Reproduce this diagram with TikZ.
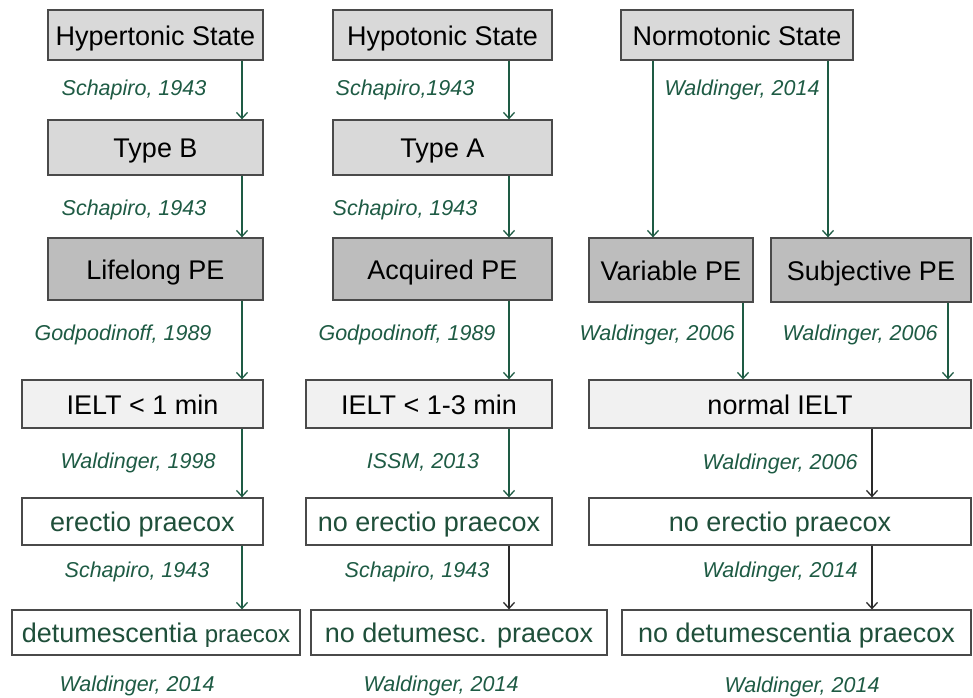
\documentclass[tikz,border=0pt]{standalone}
\usepackage{fontspec}
\setmainfont{Liberation Sans}
\usetikzlibrary{arrows.meta}
\definecolor{lbl}{HTML}{1E5B44}
\definecolor{txtg}{HTML}{1F4F3A}
\definecolor{edge}{HTML}{4A4A4A}
\definecolor{fillA}{HTML}{D9D9D9}
\definecolor{fillB}{HTML}{BDBDBD}
\definecolor{fillC}{HTML}{F1F1F1}
\definecolor{blk}{HTML}{2A2A2A}
\tikzset{
  x=1pt,y=-1pt,
  box/.style={draw=edge,line width=1.3pt,inner sep=0pt,anchor=center,
    font=\fontsize{27}{30}\selectfont,text=black,text height=20.5pt,text depth=0.5pt},
  boxA/.style={box,fill=fillA},
  boxB/.style={box,fill=fillB},
  boxC/.style={box,fill=fillC},
  boxW/.style={box,fill=white,text=txtg},
  lab/.style={font=\fontsize{21.5}{24}\selectfont\itshape,text=lbl,inner sep=0pt,text height=16pt,text depth=0.5pt},
  garr/.style={draw=lbl,line width=1.3pt,-{Straight Barb[length=6pt,width=11pt,line width=1.3pt]}},
  karr/.style={draw=blk,line width=1.3pt,-{Straight Barb[length=6pt,width=11pt,line width=1.3pt]}},
}
\begin{document}
\begin{tikzpicture}
\useasboundingbox[fill=white] (0,0) rectangle (973,697);
% row 1
\node[boxA,minimum width=215pt,minimum height=50pt] (hyper) at (155.5,35) {Hypertonic State};
\node[boxA,minimum width=219pt,minimum height=50pt] (hypo) at (442.5,35) {Hypotonic State};
\node[boxA,minimum width=232pt,minimum height=50pt] (normo) at (737,35) {Normotonic State};
% row 2
\node[boxA,minimum width=215pt,minimum height=55pt] (typeB) at (155.5,147.5) {Type B};
\node[boxA,minimum width=219pt,minimum height=55pt] (typeA) at (442.5,147.5) {Type A};
% row 3
\node[boxB,minimum width=215pt,minimum height=62pt] (life) at (155.5,269) {Lifelong PE};
\node[boxB,minimum width=219pt,minimum height=62pt] (acq) at (442.5,269) {Acquired PE};
\node[boxB,minimum width=164pt,minimum height=64pt] (var) at (671,270) {Variable PE};
\node[boxB,minimum width=200pt,minimum height=64pt] (subj) at (871,270) {Subjective PE};
% row 4
\node[boxC,minimum width=241pt,minimum height=48pt] (ielt1) at (142.5,404) {IELT < 1 min};
\node[boxC,minimum width=246pt,minimum height=48pt] (ielt13) at (429,404) {IELT < 1-3 min};
\node[boxC,minimum width=382pt,minimum height=48pt] (normal) at (780,404) {normal IELT};
% row 5
\node[boxW,minimum width=241pt,minimum height=47pt] (erec) at (142.5,521.5) {erectio praecox};
\node[boxW,minimum width=246pt,minimum height=47pt] (noerec2) at (429,521.5) {no erectio praecox};
\node[boxW,minimum width=382pt,minimum height=47pt] (noerec3) at (780,521.5) {no erectio praecox};
% row 6
\node[boxW,minimum width=288pt,minimum height=45pt] (detum) at (156,632.5) {detumescentia {\fontsize{24}{27}\selectfont praecox}};
\node[boxW,minimum width=296pt,minimum height=45pt] (nodet2) at (459,632.5) {no detumesc. praecox};
\node[boxW,minimum width=349pt,minimum height=45pt] (nodet3) at (796.5,632.5) {no detumescentia praecox};
% arrow columns
\coordinate (c1) at (242,0);
\coordinate (c2) at (509,0);
\coordinate (c3a) at (653,0);
\coordinate (c3b) at (828,0);
\coordinate (c3c) at (743,0);
\coordinate (c3d) at (948,0);
\coordinate (c3e) at (872,0);
% column 1
\draw[garr] (hyper.south -| c1) -- (typeB.north -| c1);
\draw[garr] (typeB.south -| c1) -- (life.north -| c1);
\draw[garr] (life.south -| c1) -- (ielt1.north -| c1);
\draw[garr] (ielt1.south -| c1) -- (erec.north -| c1);
\draw[garr] (erec.south -| c1) -- (detum.north -| c1);
% column 2
\draw[garr] (hypo.south -| c2) -- (typeA.north -| c2);
\draw[garr] (typeA.south -| c2) -- (acq.north -| c2);
\draw[garr] (acq.south -| c2) -- (ielt13.north -| c2);
\draw[garr] (ielt13.south -| c2) -- (noerec2.north -| c2);
\draw[karr] (noerec2.south -| c2) -- (nodet2.north -| c2);
% column 3
\draw[garr] (normo.south -| c3a) -- (var.north -| c3a);
\draw[garr] (normo.south -| c3b) -- (subj.north -| c3b);
\draw[garr] (var.south -| c3c) -- (normal.north -| c3c);
\draw[garr] (subj.south -| c3d) -- (normal.north -| c3d);
\draw[karr] (normal.south -| c3e) -- (noerec3.north -| c3e);
\draw[karr] (noerec3.south -| c3e) -- (nodet3.north -| c3e);
% labels
\node[lab] (l1) at (134,88) {Schapiro, 1943};
\node[lab] (l2) at (405,88) {Schapiro,1943};
\node[lab] (l3) at (742,88) {Waldinger, 2014};
\node[lab] (l4) at (134,208) {Schapiro, 1943};
\node[lab] (l5) at (405,208) {Schapiro, 1943};
\node[lab] (l6) at (123,333) {Godpodinoff, 1989};
\node[lab] (l7) at (407,333) {Godpodinoff, 1989};
\node[lab] (l8) at (657,333) {Waldinger, 2006};
\node[lab] (l9) at (860,333) {Waldinger, 2006};
\node[lab] (l10) at (138,461) {Waldinger, 1998};
\node[lab] (l11) at (423,461) {ISSM, 2013};
\node[lab] (l12) at (780,462) {Waldinger, 2006};
\node[lab] (l13) at (137,570) {Schapiro, 1943};
\node[lab] (l14) at (417,570) {Schapiro, 1943};
\node[lab] (l15) at (780,570) {Waldinger, 2014};
\node[lab] (l16) at (137,684) {Waldinger, 2014};
\node[lab] (l17) at (441,684) {Waldinger, 2014};
\node[lab] (l18) at (802,685) {Waldinger, 2014};
\end{tikzpicture}
\end{document}
